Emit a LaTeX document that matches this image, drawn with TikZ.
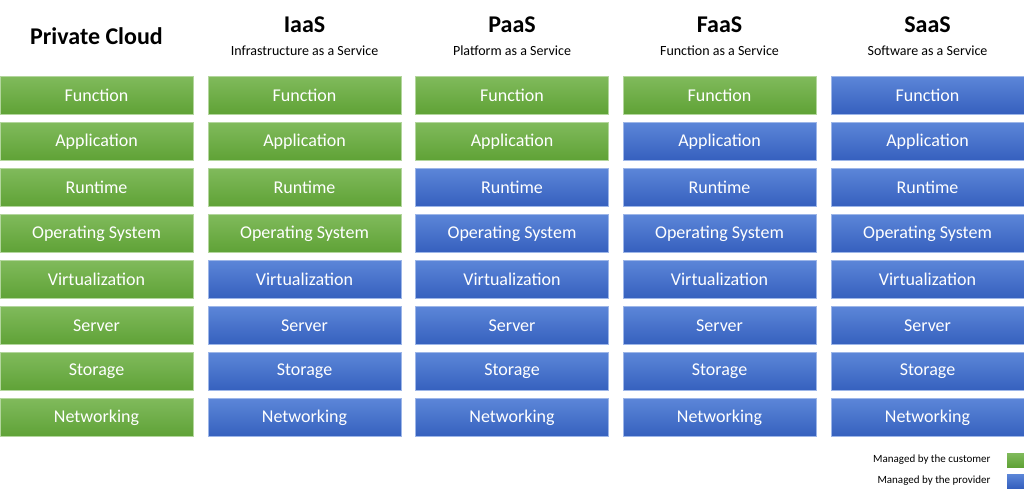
\documentclass[tikz,border=0pt]{standalone}
\usepackage{fontspec}
\setmainfont{Carlito}
\definecolor{gtop}{HTML}{80BA5C}
\definecolor{gbot}{HTML}{5FA236}
\definecolor{btop}{HTML}{5C86D8}
\definecolor{bbot}{HTML}{3560BE}
\begin{document}
\begin{tikzpicture}[x=1pt,y=-1pt,
  cell/.style={minimum width=193pt,minimum height=38pt,inner sep=0pt,text=white,font=\fontsize{18}{20}\selectfont,draw=white!70!gray,line width=0.4pt},
  cust/.style={cell,top color=gtop,bottom color=gbot,draw=gtop!60!white},
  prov/.style={cell,top color=btop,bottom color=bbot,draw=btop!60!white},
  head/.style={font=\bfseries\fontsize{24}{26}\selectfont},
  sub/.style={font=\fontsize{14}{16}\selectfont},
  leg/.style={font=\fontsize{11}{13}\selectfont,anchor=east},
  legbox/.style={minimum width=17pt,minimum height=14pt,inner sep=0pt,anchor=west}]
\useasboundingbox (0,0) rectangle (1024,497);
\def\layers{{"Function","Application","Runtime","Operating System","Virtualization","Server","Storage","Networking"}}
\foreach \c/\cx/\ng in {0/96.5/8,1/304.5/4,2/512/2,3/719.5/1,4/927.5/0}{
  \foreach \r in {0,...,7}{
    \pgfmathsetmacro{\yy}{95.5+46*\r}
    \pgfmathparse{\layers[\r]}\let\lab\pgfmathresult
    \ifnum\r<\ng
      \node[cust] (c\c r\r) at (\cx,\yy) {\lab};
    \else
      \node[prov] (c\c r\r) at (\cx,\yy) {\lab};
    \fi
  }
}
\node[head] (hpc) at (96.5,36) {Private Cloud};
\node[head] (hi) at (304.5,25) {IaaS};
\node[sub] (si) at (304.5,51) {Infrastructure as a Service};
\node[head] (hp) at (512,25) {PaaS};
\node[sub] (sp) at (512,51) {Platform as a Service};
\node[head] (hf) at (719.5,25) {FaaS};
\node[sub] (sf) at (719.5,51) {Function as a Service};
\node[head] (hs) at (927.5,25) {SaaS};
\node[sub] (ss) at (927.5,51) {Software as a Service};
\node[leg] (lc) at (994,460) {Managed by the customer};
\node[leg] (lp) at (994,481) {Managed by the provider};
\node[legbox,top color=gtop,bottom color=gbot] (bc) at (1007,460) {};
\node[legbox,top color=btop,bottom color=bbot] (bp) at (1007,481) {};
\end{tikzpicture}
\end{document}
